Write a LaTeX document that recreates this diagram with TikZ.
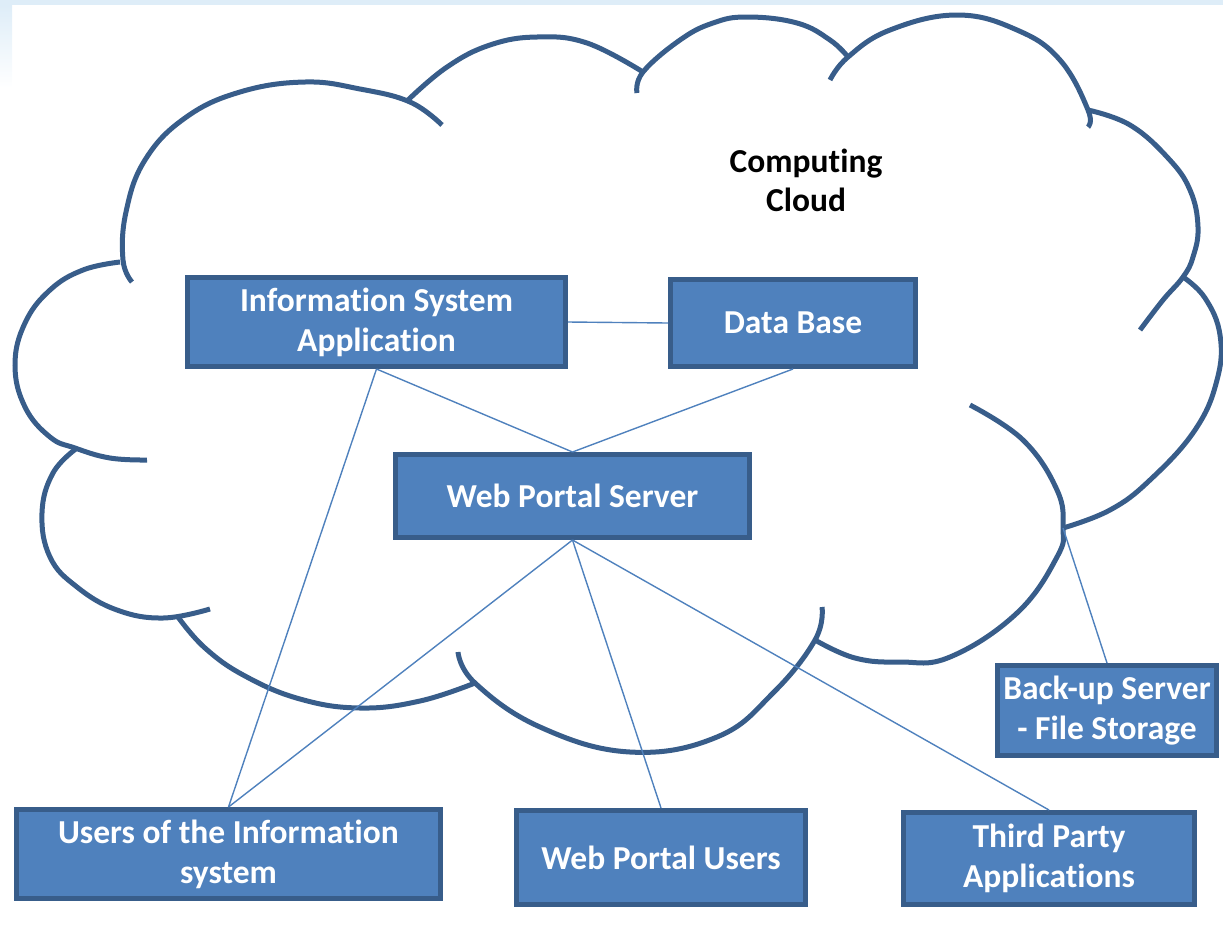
\documentclass[tikz,border=0pt]{standalone}
\usepackage{fontspec}
\setmainfont{Carlito}[Ligatures=NoCommon]

\definecolor{cloudedge}{RGB}{56,93,138}
\definecolor{boxfill}{RGB}{79,129,189}
\definecolor{linkblue}{RGB}{79,129,189}
\definecolor{bandblue}{RGB}{222,237,248}

\begin{document}
\begin{tikzpicture}[x=1pt, y=-1pt,
    cloudline/.style={draw=cloudedge, line width=5pt},
    block/.style={draw=cloudedge, fill=boxfill, line width=5pt, text=white,
        font=\fontsize{33.5}{40}\selectfont\bfseries, align=center, inner sep=0pt},
    link/.style={draw=linkblue, line width=1.4pt}]
\useasboundingbox (0,0) rectangle (1223,938);

% Page band
\fill[bandblue] (0,0) rectangle (1223,5);
\shade[top color=bandblue, bottom color=white] (0,5) rectangle (12,88);

% Cloud lobes
\begin{scope}[smooth, tension=0.7]
\draw[cloudline] plot coordinates {(132,282) (123,260) (126,212) (145,160) (185,118) (240,92) (305,82) (360,89) (410,102) (442,125)};
\draw[cloudline] plot coordinates {(408,100) (447,67) (490,45) (537,37) (587,43) (643,72)};
\draw[cloudline] plot coordinates {(637,93) (643,72) (680,40) (713,23) (747,17) (797,23) (830,40) (848,57)};
\draw[cloudline] plot coordinates {(830,80) (848,57) (890,30) (957,15) (1017,30) (1060,60) (1088,110) (1088,127)};
\draw[cloudline] plot coordinates {(1088,110) (1130,125) (1168,158) (1190,190) (1198,227) (1193,257) (1183,277) (1163,300) (1140,330)};
\draw[cloudline] plot coordinates {(1183,277) (1205,298) (1220,335) (1217,380) (1195,430) (1150,480) (1110,510) (1063,528)};
\draw[cloudline] plot coordinates {(815,640) (855,658) (900,662) (950,657) (1017,613) (1057,557) (1063,528) (1057,490) (1023,440) (970,405)};
\draw[cloudline] plot coordinates {(458,652) (475,683) (540,727) (630,752) (717,737) (773,693) (815,640) (822,607)};
\draw[cloudline] plot coordinates {(178,617) (205,648) (245,676) (300,699) (360,708) (420,701) (475,683)};
\draw[cloudline] plot coordinates {(77,448) (53,473) (42,513) (50,557) (77,587) (117,610) (163,618) (210,609)};
\draw[cloudline] plot coordinates {(120,262) (83,270) (50,290) (25,323) (15,365) (25,407) (50,437) (75,448) (110,458) (147,460)};
\end{scope}
\coordinate (cloudjoint) at (1063,528);

\node[font=\fontsize{33.5}{39}\selectfont\bfseries, align=center] (cloudname) at (806,180) {Computing\\Cloud};

% Servers in the cloud
\node[block, minimum width=378, minimum height=89] (isapp) at (376.5,322) {Information System\\Application};
\node[block, minimum width=245, minimum height=87] (database) at (793,323) {Data Base};
\node[block, minimum width=354, minimum height=83] (webserver) at (572.5,496) {Web Portal Server};
\node[block, minimum width=219, minimum height=90] (backup) at (1107,710.5) {Back-up Server\\- File Storage};

% Users outside
\node[block, minimum width=424, minimum height=89] (isusers) at (228.5,854) {Users of the Information\\system};
\node[block, minimum width=289, minimum height=94] (webusers) at (661,857.5) {Web Portal Users};
\node[block, minimum width=291, minimum height=92] (thirdparty) at (1049,858.5) {Third Party\\Applications};

% Links
\draw[link] (isapp.east) -- (database.west);
\draw[link] (isapp.south) -- (webserver.north);
\draw[link] (database.south) -- (webserver.north);
\draw[link] (isapp.south) -- (isusers.north);
\draw[link] (webserver.south) -- (isusers.north);
\draw[link] (webserver.south) -- (webusers.north);
\draw[link] (webserver.south) -- (thirdparty.north);
\draw[link] (cloudjoint) -- (backup.north);
\end{tikzpicture}
\end{document}
